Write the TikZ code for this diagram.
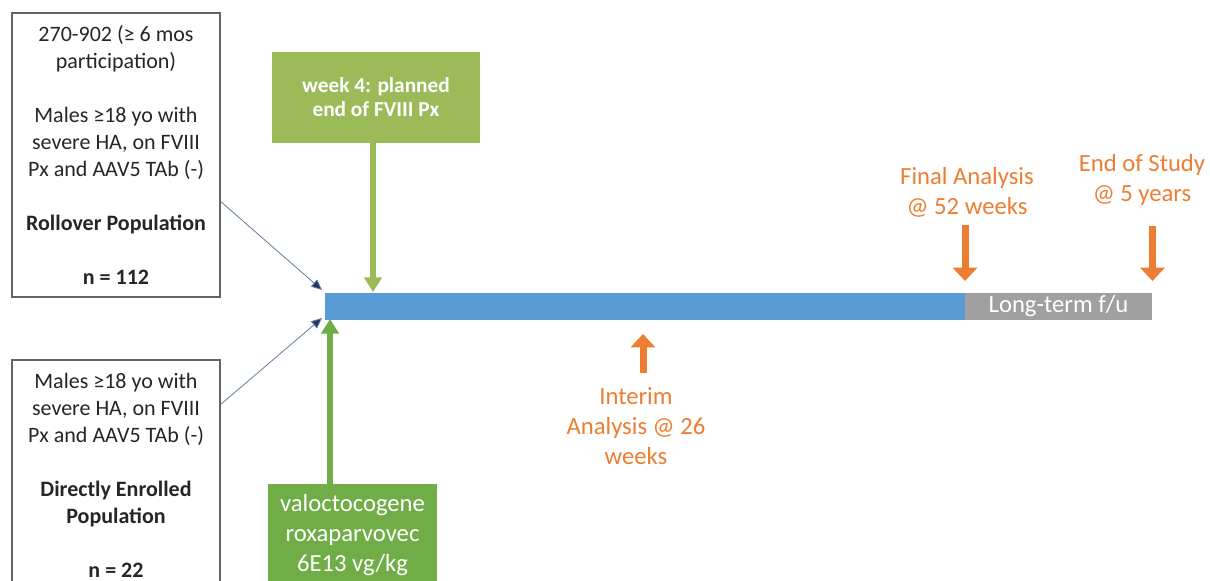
\documentclass[tikz,border=0pt]{standalone}
\usepackage{fontspec}
\setmainfont{Carlito}
\usetikzlibrary{arrows.meta}

\definecolor{popgrey}{RGB}{100,100,100}
\definecolor{poptext}{RGB}{38,38,38}
\definecolor{olivegreen}{RGB}{155,187,89}
\definecolor{dosegreen}{RGB}{112,173,71}
\definecolor{barblue}{RGB}{91,155,213}
\definecolor{fugrey}{RGB}{160,160,160}
\definecolor{msorange}{RGB}{237,125,49}
\definecolor{linkblue}{RGB}{95,125,160}
\definecolor{tipnavy}{RGB}{31,56,100}

\tikzset{every picture/.style={line width=0.75pt}}
\tikzset{
  popbox/.style={draw=popgrey, line width=1.3pt, fill=white, text=poptext, align=center,
    minimum width=156pt, inner sep=0pt, font=\fontsize{16.5}{20.25}\selectfont},
  greenbox/.style={fill=#1, text=white, align=center, inner sep=0pt},
  segment/.style={fill=#1, minimum height=20.25pt, inner sep=0pt, text=white,
    font=\fontsize{18.5}{22.5}\selectfont},
  greenarrow/.style={draw=#1, line width=4.5pt, -{Triangle[width=13pt,length=11pt]}},
  linkarrow/.style={draw=linkblue, line width=0.6pt, -{Triangle[width=7pt,length=8pt,fill=tipnavy]}},
  milestone/.style={draw=msorange, line width=5.25pt, -{Triangle[width=18pt,length=10pt]}},
  mslabel/.style={text=msorange, align=center, inner sep=0pt, font=\fontsize{18.5}{22.5}\selectfont}
}

\begin{document}
\begin{tikzpicture}[x=0.75pt,y=0.75pt,yscale=-1,xscale=1]
\useasboundingbox (0,0) rectangle (1210,581);
\clip (0,0) rectangle (1210,581);

%Shape: Rollover population box
\node [popbox, minimum height=213pt] (rollover) at (116,155) {270-902 (≥ 6 mos\\participation)\\[20.25pt]Males ≥18 yo with\\severe HA, on FVIII\\Px and AAV5 TAb (-)\\[20.25pt]\textbf{Rollover Population}\\[20.25pt]\textbf{n = 112}};
%Shape: Directly enrolled box
\node [popbox, minimum height=172.5pt] (direct) at (116,475) {Males ≥18 yo with\\severe HA, on FVIII\\Px and AAV5 TAb (-)\\[20.25pt]\textbf{Directly Enrolled}\\\textbf{Population}\\[20.25pt]\textbf{n = 22}};

%Shape: Timeline bars
\node [segment=barblue, minimum width=480pt] (bar) at (645,306) {};
\node [segment=fugrey, minimum width=140.25pt] (fu) at (1058.5,306) {Long-term f/u};

%Shape: Week 4 box
\node [greenbox=olivegreen, minimum width=156pt, minimum height=68.25pt, font=\fontsize{16}{18}\selectfont\bfseries] (week4) at (376,97.5) {week 4: planned\\end of FVIII Px};
%Shape: Dose box
\node [greenbox=dosegreen, minimum width=126.75pt, minimum height=76.5pt, font=\fontsize{18.5}{22.5}\selectfont] (dose) at (352.5,535) {valoctocogene\\roxaparvovec\\6E13 vg/kg};

% Green arrows
\coordinate (wk4in) at (373,292);
\coordinate (dosein) at (330,319);
\draw [greenarrow=olivegreen] (week4.south -| wk4in) -- (wk4in);
\draw [greenarrow=dosegreen] (dose.north -| dosein) -- (dosein);

% Population arrows
\coordinate (rollin) at (322,290);
\coordinate (directin) at (322,318);
\draw [linkarrow] (rollover.-24.8) -- (rollin);
\draw [linkarrow] (direct.34.7) -- (directin);

% Text Node
\node [mslabel] (final) at (967,192) {Final Analysis\\@ 52 weeks};
\node [mslabel] (eos) at (1142,180) {End of Study\\@ 5 years};
\node [mslabel] (interim) at (636,426) {Interim\\Analysis @ 26\\weeks};

% Milestone arrows
\coordinate (iatip) at (643,334);
\draw [milestone] (final.south -| 965,0) ++(0,8) -- (965,281);
\draw [milestone] (eos.south -| fu.east) ++(0,20) -- (fu.east |- 0,281);
\draw [milestone] (iatip |- 0,373) -- (iatip);

\end{tikzpicture}
\end{document}
